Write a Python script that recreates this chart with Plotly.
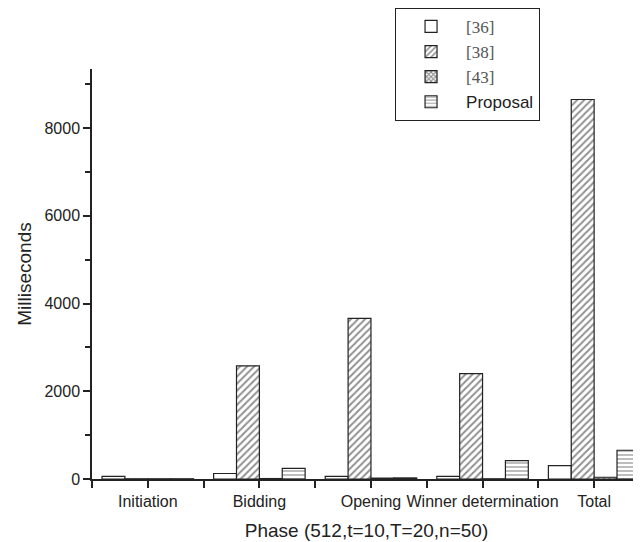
import plotly.graph_objects as go

phases = ["Initiation", "Bidding", "Opening", "Winner determination", "Total"]
series_names = ["[36]", "[38]", "[43]", "Proposal"]
vals_36 = [60, 125, 60, 60, 305]
vals_38 = [5, 2580, 3660, 2400, 8650]
vals_43 = [5, 10, 20, 5, 40]
vals_proposal = [5, 240, 25, 420, 655]

series_values = [vals_36, vals_38, vals_43, vals_proposal]
patterns = ["", "/", "x", "-"]
pat_sizes = [6, 5, 4, 4]
pat_solid = [0.3, 0.4, 0.6, 0.3]
legend_labels = [
    "[36]", "[38]", "[43]",
    "<span style='font-family:Liberation Sans;color:#222'>Proposal</span>",
]

xpos = list(range(len(phases)))

fig = go.Figure()
for name, label, vals, pat, ps, sol in zip(series_names, legend_labels, series_values,
                                           patterns, pat_sizes, pat_solid):
    fig.add_trace(go.Bar(
        x=xpos, y=vals, name=label,
        marker=dict(
            color="white",
            line=dict(color="#222", width=1.2),
            pattern=dict(shape=pat, fgcolor="#222", bgcolor="white", size=ps, solidity=sol),
        ),
    ))

fig.update_layout(
    width=641, height=542,
    margin=dict(l=84, r=8, t=61, b=71, autoexpand=False),
    paper_bgcolor="white", plot_bgcolor="white",
    barmode="group", bargap=0.18, bargroupgap=0,
    font=dict(family="Liberation Sans", size=16, color="#222"),
    legend=dict(
        x=0.552, y=1.149, xanchor="left", yanchor="top",
        bordercolor="#222", borderwidth=1, bgcolor="white",
        font=dict(family="Liberation Serif", size=17, color="#555"),
        itemwidth=60, tracegroupgap=0,
    ),
    showlegend=True,
)

fig.update_xaxes(
    range=[-0.5, 4.42], tickvals=xpos, ticktext=phases,
    showline=True, linecolor="#222", linewidth=1.5,
    ticks="outside", ticklen=7, tickwidth=1.5, tickcolor="#222",
    minor=dict(tickvals=[i - 0.5 for i in range(len(phases) + 1)], ticks="outside",
               ticklen=7, tickwidth=1.5, tickcolor="#222"),
    showgrid=False, zeroline=False,
    tickfont=dict(size=16),
    title=dict(text="Phase (512,t=10,T=20,n=50)", font=dict(size=19), standoff=15),
)
fig.update_yaxes(
    range=[0, 9345], tickvals=[0, 2000, 4000, 6000, 8000],
    showline=True, linecolor="#222", linewidth=1.5,
    ticks="outside", ticklen=7, tickwidth=1.5, tickcolor="#222",
    minor=dict(tickvals=[1000, 3000, 5000, 7000, 9000], ticks="outside",
               ticklen=5, tickwidth=1.5, tickcolor="#222"),
    showgrid=False, zeroline=False,
    tickfont=dict(size=16),
    title=dict(text="Milliseconds", font=dict(size=19), standoff=8),
)

fig.write_html("out.html")
